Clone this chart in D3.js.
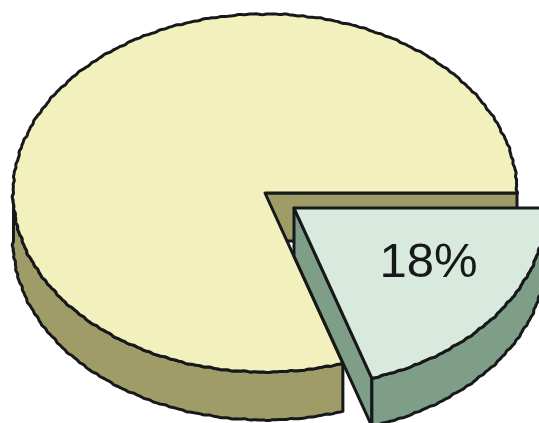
<!DOCTYPE html>
<html><head><meta charset="utf-8">
<script src="https://cdn.jsdelivr.net/npm/d3@7"></script>
<style>html,body{margin:0;padding:0;background:#fff;overflow:hidden}svg{display:block}</style>
</head><body><svg id="c" width="539" height="423"></svg>
<script>
const categories = ["Exploded", "Remainder"];
const shares = [18, 82];
const sliceLabels = ["18%", ""];
const topColors = ["#d8eadd", "#f2f0bc"];
const sideColors = ["#7f9e88", "#a09c68"];

const svg = d3.select("#c");
const INK = "#16181a", SW = 3;
// Tilted 3-D pie: unit-circle coordinates go through these scales.
const rx = 252, ry = 179, depth = 48;
const sx = d3.scaleLinear().domain([0, 1]).range([265, 265 + rx]);
const sy = d3.scaleLinear().domain([0, 1]).range([193, 193 + ry]);
const explode = {dx: 29, dy: 15};
// Perspective foreshortening makes the 18 share span 72deg on the ellipse.
const angle = d3.scaleLinear().domain([0, 18, 100]).range([0, 72, 360].map(d => d * Math.PI / 180));

let acc = 0;
const slices = shares.map((v, i) => {
  const s = {i, name: categories[i], a0: angle(acc), a1: angle(acc + v)};
  acc += v; return s;
});
// Rough printed edge of the original outline.
const rough = t => 1 + 0.0012 * Math.sin(t * 41) + 0.0014 * Math.sin(t * 97 + 1) + 0.001 * Math.sin(t * 173 + 2);
const rim = (a0, a1) => d3.range(0, 1.0001, 1 / Math.max(2, Math.round((a1 - a0) * 160)))
  .map(f => { const t = a0 + (a1 - a0) * f, r = rough(t); return [r * Math.cos(t), r * Math.sin(t)]; });
const line = (ox, oy) => d3.line().x(d => sx(d[0]) + ox).y(d => sy(d[1]) + oy);
const styled = sel => sel.attr("stroke", INK).attr("stroke-width", SW).attr("stroke-linejoin", "round");

function drawPoly(pts, ox, oy, fill) {
  styled(svg.append("path").attr("d", line(ox, oy)(pts) + "Z").attr("fill", fill));
}
function sideQuad(p, q, s, ox, oy) {
  styled(svg.append("path")
    .attr("d", `M${sx(p[0]) + ox},${sy(p[1]) + oy}L${sx(q[0]) + ox},${sy(q[1]) + oy}L${sx(q[0]) + ox},${sy(q[1]) + oy + depth}L${sx(p[0]) + ox},${sy(p[1]) + oy + depth}Z`)
    .attr("fill", sideColors[s.i]));
}
function outerWall(s, a0, a1, ox, oy) {
  const arc = rim(a0, a1);
  const l = line(ox, oy), l2 = line(ox, oy + depth);
  styled(svg.append("path").attr("d", l(arc) + "L" + l2(arc.slice().reverse()).slice(1) + "Z")
    .attr("fill", sideColors[s.i]));
}

const [wedge, main] = slices;
// main slice: cut wall, front wall, top
sideQuad([0, 0], [Math.cos(wedge.a0), Math.sin(wedge.a0)], main, 0, 0);
outerWall(main, main.a0, Math.PI, 0, 0);
drawPoly([[0, 0], ...rim(main.a0, main.a1)], 0, 0, topColors[main.i]);
// exploded slice: cut wall, front wall, top
sideQuad([0, 0], [Math.cos(wedge.a1), Math.sin(wedge.a1)], wedge, explode.dx, explode.dy);
outerWall(wedge, wedge.a0, wedge.a1, explode.dx, explode.dy);
drawPoly([[0, 0], ...rim(wedge.a0, wedge.a1)], explode.dx, explode.dy, topColors[wedge.i]);

svg.append("text").attr("x", 428.5).attr("y", 277).attr("text-anchor", "middle")
  .attr("font-family", "'Liberation Sans', Arial, sans-serif").attr("font-size", 49)
  .attr("fill", INK).text(sliceLabels[0]);
</script></body></html>
